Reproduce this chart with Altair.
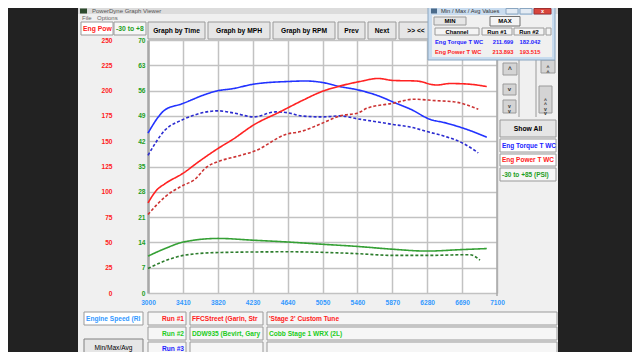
import altair as alt
import pandas as pd

FONT = "Liberation Sans"

# ---------------- data ----------------
rpm_ticks = [3000, 3410, 3820, 4230, 4640, 5050, 5460, 5870, 6280, 6690, 7100]
power_ticks = [0, 25, 50, 75, 100, 125, 150, 175, 200, 225, 250]
psi_ticks = [0, 7, 14, 21, 28, 35, 42, 49, 56, 63, 70]

torque1_rpm = [3000, 3200, 3400, 3700, 3800, 4000, 4250, 4650, 4850, 5050, 5250, 5450, 5700, 5900, 6100, 6300, 6500, 6750, 6980]
torque1_val = [158, 181, 187, 197, 199.5, 202, 206.5, 209, 209.5, 208, 204, 201, 195, 188, 181, 172, 168, 161.5, 154]

torque2_rpm = [3000, 3200, 3400, 3550, 3820, 4000, 4240, 4500, 4650, 4800, 5050, 5250, 5470, 5700, 5880, 6080, 6300, 6500, 6700, 6880]
torque2_val = [136, 161, 171, 176, 180, 178, 174, 179, 178, 175, 174, 175, 172, 169, 166.5, 164, 159, 154.5, 148, 138.5]

power1_rpm = [3000, 3100, 3200, 3415, 3600, 3826, 4000, 4240, 4550, 4820, 5040, 5255, 5490, 5705, 5880, 6150, 6390, 6550, 6750, 6980]
power1_val = [89, 101.5, 108, 118.5, 130, 143, 152, 166, 179, 190.5, 199, 204.5, 209, 212, 210, 209.5, 205.5, 207, 206.5, 204]

power2_rpm = [3000, 3200, 3415, 3540, 3690, 3826, 4042, 4260, 4630, 4790, 5040, 5255, 5470, 5570, 5880, 6120, 6390, 6590, 6880]
power2_val = [77.5, 95, 106.5, 111.5, 124.5, 130, 135, 140.5, 157, 159.5, 167.5, 175, 178, 182.5, 187.5, 191.5, 190, 189, 181.5]

boost1_rpm = [3000, 3200, 3415, 3826, 4237, 4648, 5040, 5450, 5880, 6270, 6680, 6980]
boost1_val = [10.2, 12.3, 14.1, 15.1, 14.6, 14.1, 13.5, 12.9, 12.1, 11.6, 12.0, 12.3]

boost2_rpm = [3000, 3200, 3415, 3826, 4648, 5450, 5880, 6270, 6780, 6900]
boost2_val = [6.8, 8.9, 10.4, 11.2, 11.4, 10.9, 10.4, 10.4, 10.6, 9.1]

series_names = ["Torque Run #1", "Torque Run #2", "Power Run #1", "Power Run #2", "Boost Run #1", "Boost Run #2"]
series_colors = ["#2233ff", "#2b2bd0", "#ff2222", "#cc3333", "#35a035", "#2d7d2d"]
series_dash = [[1, 0], [3, 2], [1, 0], [3, 2], [1, 0], [3, 2]]

pt = pd.concat([
    pd.DataFrame({"rpm": torque1_rpm, "value": torque1_val, "series": series_names[0]}),
    pd.DataFrame({"rpm": torque2_rpm, "value": torque2_val, "series": series_names[1]}),
    pd.DataFrame({"rpm": power1_rpm, "value": power1_val, "series": series_names[2]}),
    pd.DataFrame({"rpm": power2_rpm, "value": power2_val, "series": series_names[3]}),
])
bst = pd.concat([
    pd.DataFrame({"rpm": boost1_rpm, "psi": boost1_val, "series": series_names[4]}),
    pd.DataFrame({"rpm": boost2_rpm, "psi": boost2_val, "series": series_names[5]}),
])

# ---------------- helpers for the window decoration ----------------
OX, OY = 148, 40
one = pd.DataFrame({"k": [0]})


def rect(x1, y1, x2, y2, fill, stroke=None, sw=1.0):
    kw = dict(fill=fill)
    if stroke:
        kw.update(stroke=stroke, strokeWidth=sw)
    return alt.Chart(one).mark_rect(**kw).encode(
        x=alt.value(x1 - OX), x2=alt.value(x2 - OX),
        y=alt.value(y1 - OY), y2=alt.value(y2 - OY))


def label(x, y, txt, color="#000000", size=6.6, weight="bold", align="left", lh=None):
    kw = {}
    if lh is not None:
        kw["lineHeight"] = lh
    return alt.Chart(one).mark_text(
        text=txt, color=color, fontSize=size, fontWeight=weight, align=align,
        baseline="middle", font=FONT, **kw).encode(x=alt.value(x - OX), y=alt.value(y - OY))


def vline(x, y1, y2, color="#a0a0a0", w=1.0):
    return alt.Chart(one).mark_rule(color=color, strokeWidth=w).encode(
        x=alt.value(x - OX), y=alt.value(y1 - OY), y2=alt.value(y2 - OY))


RED = "#ff2020"
BLUE = "#2222ff"
GREEN = "#1e9e1e"
LIME = "#22cc22"
XBLUE = "#3399ff"
BTN = "#e6e6e6"
BTNS = "#9a9a9a"
FIELD = "#f6f6f6"

bg = [
    rect(0, 0, 78, 360, "#222222"),
    rect(558, 0, 640, 360, "#222222"),
    rect(78, 357, 558, 360, "#333333"),
    rect(78, 0, 558, 14, "#dcdcdc"),
    rect(80, 8.5, 87, 13.5, "#2d4a2d"),
    label(92, 11.2, "PowerDyne Graph Viewer", "#555555", 6.0, "normal"),
    label(82, 17.5, "File", "#666666", 6.0, "normal"),
    label(97, 17.5, "Options", "#666666", 6.0, "normal"),
    rect(81, 22, 113, 35, "#ffffff", BTNS),
    label(83, 28.5, "Eng Pow", RED, 6.8),
    rect(114, 22, 146, 35, FIELD, BTNS),
    label(116, 28.5, "-30 to +8", GREEN, 6.8),
    rect(148, 22, 205, 39, BTN, BTNS),
    label(176.5, 31, "Graph by Time", "#000000", 6.7, "bold", "center"),
    rect(208, 22, 270, 39, BTN, BTNS),
    label(239, 31, "Graph by MPH", "#000000", 6.7, "bold", "center"),
    rect(273, 22, 335, 39, BTN, BTNS),
    label(304, 31, "Graph by RPM", "#000000", 6.7, "bold", "center"),
    rect(338, 22, 365, 39, BTN, BTNS),
    label(351.5, 31, "Prev", "#000000", 6.7, "bold", "center"),
    rect(368, 22, 396, 39, BTN, BTNS),
    label(382, 31, "Next", "#000000", 6.7, "bold", "center"),
    rect(399, 22, 440, 39, BTN, BTNS),
    label(416, 31, ">> <<", "#000000", 6.7, "bold", "center"),
    # right panel
    vline(497, 40, 296, "#a8a8a8", 1.5),
    rect(503, 63, 517, 75, "#d4d4d4", BTNS),
    label(510, 70, "^", "#333333", 6.5, "bold", "center"),
    rect(503, 84, 516, 95, "#d4d4d4", BTNS),
    label(509.5, 89, "v", "#333333", 6.0, "bold", "center"),
    rect(503, 100, 516, 113, "#d4d4d4", BTNS),
    label(509.5, 106, ["v", "v"], "#333333", 5.0, "bold", "center", 4.5),
    vline(519, 60, 117, "#9a9a9a", 1.0),
    vline(536, 60, 117, "#9a9a9a", 1.0),
    rect(541, 60, 555, 73, "#d4d4d4", BTNS),
    label(548, 67, ["^", "^"], "#333333", 5.0, "bold", "center", 4.5),
    rect(539, 86, 552, 113, "#d4d4d4", BTNS),
    label(545.5, 99.5, ["^", "^", "v", "v"], "#333333", 5.0, "bold", "center", 4.5),
    rect(500, 120, 556, 137, BTN, BTNS),
    label(528, 128.5, "Show All", "#000000", 6.8, "bold", "center"),
    rect(500, 139, 556, 152, "#ffffff", BTNS),
    label(502, 145.5, "Eng Torque T WC", BLUE, 6.5),
    rect(500, 154, 556, 166, "#ffffff", BTNS),
    label(502, 160, "Eng Power T WC", RED, 6.5),
    rect(500, 168, 556, 181, FIELD, BTNS),
    label(502, 174.5, "-30 to +85 (PSI)", GREEN, 6.5),
    # bottom panel
    rect(84, 312, 143, 325, "#ffffff", BTNS),
    label(86, 318.5, "Engine Speed (RI", XBLUE, 6.6),
    rect(148, 312, 186, 325, FIELD, BTNS),
    label(184, 318.5, "Run #1", RED, 6.6, "bold", "right"),
    rect(190, 312, 263, 325, FIELD, BTNS),
    label(192, 318.5, "FFCStreet (Garin, Str", RED, 6.6),
    rect(267, 312, 557, 325, FIELD, BTNS),
    label(269, 318.5, "'Stage 2' Custom Tune", RED, 6.6),
    rect(148, 327, 186, 340, FIELD, BTNS),
    label(184, 333.5, "Run #2", LIME, 6.6, "bold", "right"),
    rect(190, 327, 263, 340, FIELD, BTNS),
    label(192, 333.5, "DDW935 (Bevirt, Gary", LIME, 6.6),
    rect(267, 327, 557, 340, FIELD, BTNS),
    label(269, 333.5, "Cobb Stage 1 WRX (2L)", LIME, 6.6),
    rect(148, 342, 186, 355, FIELD, BTNS),
    label(184, 348.5, "Run #3", BLUE, 6.6, "bold", "right"),
    rect(190, 342, 263, 355, FIELD, BTNS),
    rect(267, 342, 557, 355, FIELD, BTNS),
    rect(84, 339, 143, 356, BTN, "#808080"),
    label(113.5, 347.5, "Min/Max/Avg", "#000000", 6.6, "normal", "center"),
]

fg = [
    rect(428, 0, 555, 60, "#c9dcef", "#8aa6c1"),
    rect(431, 8.5, 437, 13.5, "#4a6a8a"),
    label(441, 11.2, "Min / Max / Avg Values", "#333333", 5.8, "normal"),
    rect(506, 8.5, 518, 14, "#e3ebf4", "#8aa6c1"),
    rect(520, 8.5, 532, 14, "#e3ebf4", "#8aa6c1"),
    rect(534, 8.5, 551, 14, "#d8453c", "#a03030"),
    label(542.5, 11.2, "x", "#ffffff", 5.5, "bold", "center"),
    rect(432, 15, 552, 57, "#f0f0f0"),
    rect(434, 17, 466, 25, BTN, BTNS),
    label(450, 21, "MIN", "#000000", 6.0, "bold", "center"),
    rect(490, 16.5, 520, 26, "#f4f4f4", "#707070"),
    label(505, 21, "MAX", "#000000", 6.0, "bold", "center"),
    rect(435, 28, 479, 35, "#f4f4f4", BTNS),
    label(457, 31.5, "Channel", "#000000", 5.8, "bold", "center"),
    rect(482, 28, 512, 35, "#f4f4f4", BTNS),
    label(497, 31.5, "Run #1", "#000000", 5.8, "bold", "center"),
    rect(514, 28, 544, 35, "#f4f4f4", BTNS),
    label(529, 31.5, "Run #2", "#000000", 5.8, "bold", "center"),
    rect(546, 28, 551, 35, "#f4f4f4", BTNS),
    label(435, 41.5, "Eng Torque T WC", BLUE, 5.8),
    label(503, 41.5, "211.699", BLUE, 5.8, "bold", "center"),
    label(530, 41.5, "182.042", BLUE, 5.8, "bold", "center"),
    label(435, 51.5, "Eng Power T WC", RED, 5.8),
    label(503, 51.5, "213.893", RED, 5.8, "bold", "center"),
    label(530, 51.5, "193.515", RED, 5.8, "bold", "center"),
]

# ---------------- data layers ----------------
color_scale = alt.Scale(domain=series_names, range=series_colors)
dash_scale = alt.Scale(domain=series_names, range=series_dash)
x_scale = alt.Scale(domain=[3000, 7100], nice=False, zero=False)
x_axis = alt.Axis(values=rpm_ticks, format="d", title=None, grid=True,
                  gridColor="#c2c2c2", gridWidth=1.5, domain=False, ticks=False,
                  labelPadding=6, labelColor=XBLUE, labelFont=FONT,
                  labelFontSize=6.6, labelFontWeight="bold", labelFlush=False,
                  labelOverlap=False, labelSeparation=0)

lines_pt = alt.Chart(pt).mark_line(interpolate="monotone", strokeWidth=1.6).encode(
    x=alt.X("rpm:Q", scale=x_scale, axis=x_axis),
    y=alt.Y("value:Q", scale=alt.Scale(domain=[0, 250], nice=False),
            axis=alt.Axis(values=power_ticks, orient="left", offset=33, labelPadding=3,
                          domain=False, ticks=False, grid=False, title=None,
                          labelColor=RED, labelFont=FONT, labelFontSize=6.6,
                          labelFontWeight="bold", labelOverlap=False)),
    color=alt.Color("series:N", scale=color_scale, legend=None),
    strokeDash=alt.StrokeDash("series:N", scale=dash_scale, legend=None),
)

lines_boost = alt.Chart(bst).mark_line(interpolate="monotone", strokeWidth=1.6).encode(
    x=alt.X("rpm:Q", scale=x_scale, axis=x_axis),
    y=alt.Y("psi:Q", scale=alt.Scale(domain=[0, 70], nice=False),
            axis=alt.Axis(values=psi_ticks, orient="left", offset=0, labelPadding=3,
                          domain=True, domainColor="#a8a8a8", domainWidth=2.5,
                          ticks=False, grid=True, gridColor="#c2c2c2", gridWidth=1.5,
                          title=None, labelColor=GREEN, labelFont=FONT, labelFontSize=6.6,
                          labelFontWeight="bold", labelOverlap=False)),
    color=alt.Color("series:N", scale=color_scale, legend=None),
    strokeDash=alt.StrokeDash("series:N", scale=dash_scale, legend=None),
)

chart = alt.layer(*bg, lines_pt, lines_boost, *fg).resolve_scale(
    y="independent"
).properties(
    width=349, height=253,
    padding={"left": 140, "top": 32, "right": 135, "bottom": 59},
    autosize=alt.AutoSizeParams(type="none"),
    background="#f0f0f0",
).configure_view(fill="#ffffff", stroke=None)

chart.save("out.html", embed_options={"renderer": "svg", "actions": False})
